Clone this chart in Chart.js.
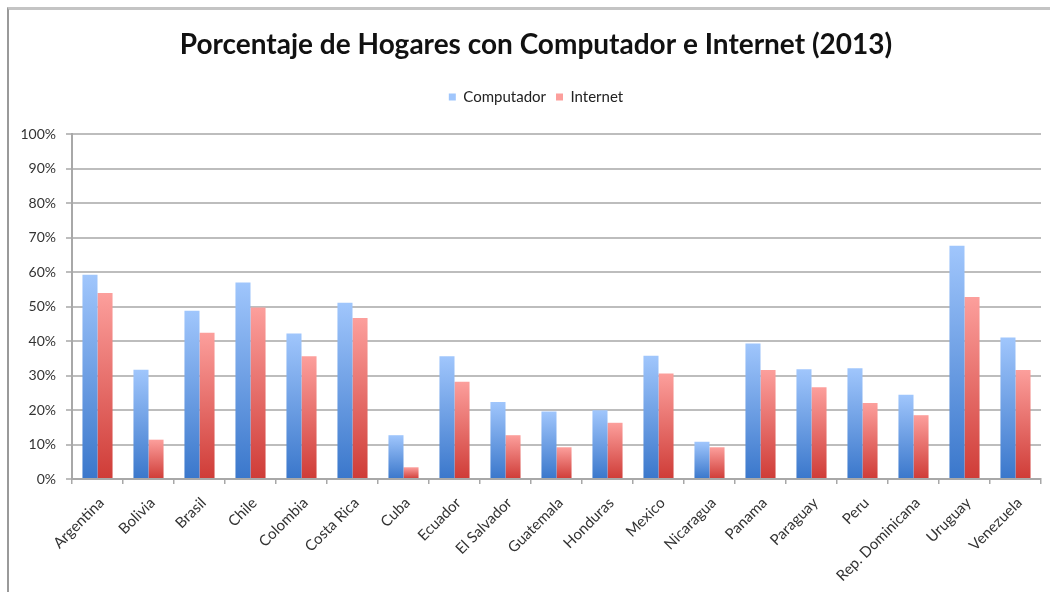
<!DOCTYPE html>
<html>
<head>
<meta charset="utf-8">
<title>Porcentaje de Hogares con Computador e Internet (2013)</title>
<script src="https://cdn.jsdelivr.net/npm/chart.js@4.4.0/dist/chart.umd.min.js"></script>
<style>
  html, body { margin: 0; padding: 0; background: #fff; }
  #wrap { position: relative; width: 1050px; height: 592px; overflow: hidden; }
  #frame { position: absolute; left: 7px; top: 7px; right: -4px; bottom: -4px;
           border-top: 3px solid #c4c4c4; border-left: 2px solid #9a9a9a; }
  #barChart { position: absolute; left: 0; top: 0; }
</style>
</head>
<body>
<div id="wrap">
  <div id="frame"></div>
  <canvas id="barChart" width="1050" height="592"></canvas>
</div>
<script>
var paises = ["Argentina", "Bolivia", "Brasil", "Chile", "Colombia", "Costa Rica", "Cuba",
              "Ecuador", "El Salvador", "Guatemala", "Honduras", "Mexico", "Nicaragua",
              "Panama", "Paraguay", "Peru", "Rep. Dominicana", "Uruguay", "Venezuela"];
var computador = [59.2, 31.7, 48.8, 57.0, 42.2, 51.1, 12.7, 35.6, 22.3, 19.6,
                  19.9, 35.7, 10.8, 39.3, 31.8, 32.1, 24.4, 67.6, 41.0];
var internet = [53.9, 11.4, 42.4, 49.7, 35.6, 46.7, 3.4, 28.2, 12.7, 9.2,
                16.3, 30.6, 9.2, 31.6, 26.6, 22.0, 18.5, 52.8, 31.6];
var yTickLabels = ["0%", "10%", "20%", "30%", "40%", "50%", "60%", "70%", "80%", "90%", "100%"];

var fontFamily = "Lato, 'Open Sans', sans-serif";

// each bar gets its own vertical gradient, light at the top, dark at the base
function barGradient(topColor, bottomColor, flatColor) {
    return function(context) {
        var chart = context.chart;
        var y = chart.scales.y;
        if (!chart.chartArea || !y || context.raw == null) return flatColor;
        var top = y.getPixelForValue(context.raw);
        var bottom = y.getPixelForValue(0);
        if (!isFinite(top) || bottom - top < 1) return flatColor;
        var g = chart.ctx.createLinearGradient(0, top, 0, bottom);
        g.addColorStop(0, topColor);
        g.addColorStop(1, bottomColor);
        return g;
    };
}

// the y labels hang out past the narrow axis box; widen its clip area
var yLabelRoom = {
    id: "yLabelRoom",
    afterLayout: function(chart) {
        chart.scales.y.left = 0;
    }
};

var ctx = document.getElementById("barChart");
var chart = new Chart(ctx, {
    type: "bar",
    plugins: [yLabelRoom],
    data: {
        labels: paises,
        datasets: [
            {
                label: "Computador",
                data: computador,
                backgroundColor: barGradient("#a0c6fc", "#3a77cb", "#5b8fe0"),
                borderWidth: 0
            },
            {
                label: "Internet",
                data: internet,
                backgroundColor: barGradient("#fc9f9c", "#cf3c37", "#e25855"),
                borderWidth: 0
            }
        ]
    },
    options: {
        responsive: false,
        animation: false,
        layout: { padding: { top: 0, left: 31, right: 9, bottom: 0 } },
        datasets: { bar: { categoryPercentage: 0.59, barPercentage: 1.0 } },
        plugins: {
            title: {
                display: true,
                text: "Porcentaje de Hogares con Computador e Internet (2013)",
                color: "#111",
                font: { family: fontFamily, size: 28, weight: "bold", lineHeight: 1.2 },
                padding: { top: 28, bottom: 18 }
            },
            // empty spacer placed between the legend and the plot
            subtitle: {
                display: true,
                text: "",
                weight: 500,
                padding: 0,
                font: { size: 10, lineHeight: 1.95 }
            },
            legend: {
                position: "top",
                labels: {
                    boxWidth: 7,
                    boxHeight: 7,
                    padding: 10,
                    color: "#222",
                    font: { family: fontFamily, size: 15 }
                }
            },
            tooltip: { enabled: false }
        },
        scales: {
            x: {
                afterFit: function(scale) { scale.height = 113; },
                grid: { drawOnChartArea: false, drawTicks: true, tickLength: 5, color: "#a8a8a8", lineWidth: 1.5 },
                border: { display: true, color: "#a8a8a8", width: 2 },
                ticks: {
                    minRotation: 45,
                    maxRotation: 45,
                    autoSkip: false,
                    padding: 10,
                    labelOffset: 4,
                    color: "#333",
                    font: { family: fontFamily, size: 15 }
                }
            },
            y: {
                min: 0,
                max: 100,
                afterFit: function(scale) { scale.width = 41; },
                grid: { color: "#bdbdbd", lineWidth: 2, tickLength: 6 },
                border: { display: true, color: "#a8a8a8", width: 2 },
                ticks: {
                    stepSize: 10,
                    padding: 10,
                    color: "#333",
                    font: { family: fontFamily, size: 14 },
                    callback: function(value, index) { return yTickLabels[index]; }
                }
            }
        }
    }
});
</script>
</body>
</html>
